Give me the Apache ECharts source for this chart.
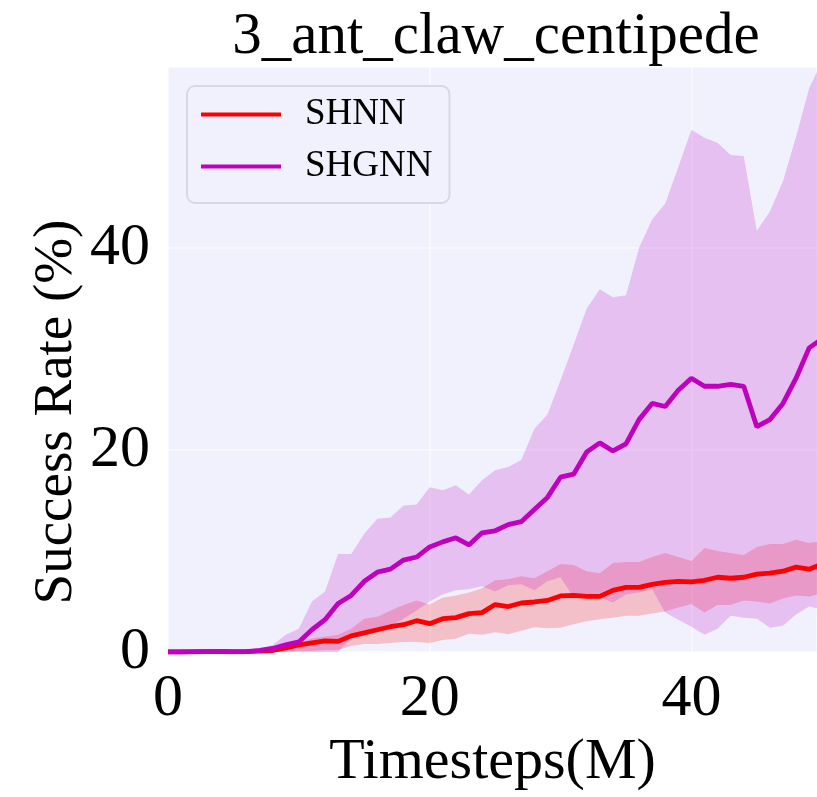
<!DOCTYPE html>
<html>
<head>
<meta charset="utf-8">
<script src="https://cdn.jsdelivr.net/npm/echarts@6/dist/echarts.min.js"></script>
<style>
html,body{margin:0;padding:0;background:#fff;}
#chart{width:817px;height:797px;}
</style>
</head>
<body>
<div id="chart"></div>
<script>
// ---- data ----
const steps = [0,1,2,3,4,5,6,7,8,9,10,11,12,13,14,15,16,17,18,19,20,21,22,23,24,25,26,27,28,29,30,31,32,33,34,35,36,37,38,39,40,41,42,43,44,45,46,47,48,49,50];

const shnnMean = [0,0,0.02,0.03,0.03,0.03,0.05,0.08,0.15,0.4,0.7,0.9,1.1,1.05,1.6,1.9,2.2,2.5,2.7,3.1,2.8,3.3,3.4,3.8,3.9,4.7,4.5,4.85,4.95,5.1,5.55,5.6,5.5,5.5,6.1,6.4,6.4,6.7,6.9,7.0,6.95,7.1,7.4,7.3,7.4,7.7,7.8,8.0,8.4,8.2,8.7];
const shnnUpper = [0.05,0.05,0.08,0.1,0.1,0.1,0.12,0.2,0.35,0.55,0.85,1.35,1.5,1.7,2.3,3.3,3.5,4.1,4.65,5.1,4.7,5.4,5.6,5.9,6.3,7.1,7.2,7.5,7.3,8.0,8.7,8.6,8.0,7.8,8.8,8.9,8.9,9.4,9.8,9.4,9.0,10.3,10.0,9.8,9.6,10.4,10.7,10.7,11.1,10.8,11.0];
const shnnLower = [0,0,0,0,0,0,0,0,0,0.05,0.1,0.1,0.2,0.2,0.6,0.8,0.8,0.9,1.0,1.0,0.9,1.2,1.3,1.8,1.7,1.95,1.75,2.1,2.45,2.35,2.4,2.75,3.05,3.25,3.4,3.6,3.6,3.8,4.0,4.4,4.75,3.9,4.65,4.65,5.1,5.0,4.8,5.3,5.6,5.5,5.8];

const shgnnMean = [0,0,0.03,0.03,0.05,0.02,0.03,0.15,0.35,0.7,1.0,2.2,3.2,4.8,5.6,7.0,7.9,8.2,9.1,9.4,10.4,10.9,11.3,10.6,11.8,12.0,12.6,12.9,14.1,15.3,17.3,17.6,19.8,20.7,19.9,20.6,23.0,24.6,24.3,25.9,27.1,26.3,26.3,26.5,26.3,22.3,23.0,24.6,27.1,30.1,31.0];
const shgnnUpper = [0.05,0.05,0.1,0.1,0.1,0.05,0.1,0.3,0.7,1.7,2.3,5.0,6.0,9.7,9.7,11.7,13.2,13.3,14.5,14.6,16.3,16.0,16.5,15.6,17.0,18.0,18.3,19.0,22.1,23.5,26.9,30.4,34.0,35.9,35.1,35.3,40.0,42.8,44.4,48.0,51.7,50.9,50.4,49.2,49.1,41.7,43.6,46.6,51.0,55.8,58.5];
const shgnnLower = [0,0,0,0,0,0,0,0,0,0,0,0,0,0,1.4,1.7,2.1,2.6,3.3,4.1,5.0,5.7,6.1,6.2,6.5,6.0,6.6,6.7,6.1,7.0,7.4,5.4,5.3,5.4,4.9,5.7,5.9,6.2,3.9,3.2,2.5,1.7,2.3,3.6,3.4,3.3,2.4,2.6,3.7,4.5,4.2];

const xTicks = [0, 20, 40];
const yTicks = [0, 20, 40];
const seriesNames = ['SHNN', 'SHGNN'];
const titleText = '3_ant_claw_centipede';
const xName = 'Timesteps(M)';
const yName = 'Success Rate (%)';

// ---- build ----
const pairs = (ys) => steps.map((x, i) => [x, ys[i]]);
const bandData = (lo, hi) => steps.map((x, i) => [x, lo[i], hi[i]]);

const FONT = '"Liberation Serif", "Times New Roman", serif';
const RED = '#FF0000';
const MAG = '#BF00BF';
const BG = '#F1F1FD';

const chart = echarts.init(document.getElementById('chart'), null, {renderer: 'canvas'});

function bandSeries(name, lo, hi, color, z) {
  return {
    name: name + '_band', type: 'custom', silent: true, z: z,
    data: bandData(lo, hi),
    encode: {x: 0, y: [1, 2]},
    clip: true,
    renderItem: function (params, api) {
      if (params.dataIndex !== 0) return null;
      const top = steps.map((x, i) => api.coord([x, hi[i]]));
      const bot = steps.map((x, i) => api.coord([x, lo[i]])).reverse();
      return {
        type: 'polygon',
        shape: {points: top.concat(bot)},
        style: {fill: color, stroke: null}
      };
    }
  };
}

const option = {
  animation: false,
  backgroundColor: '#ffffff',
  grid: {
    left: 168, right: 0, top: 67, bottom: 145,
    show: true, backgroundColor: BG, borderWidth: 0
  },
  xAxis: {
    type: 'value', min: 0, max: 49.6, interval: 20,
    axisLine: {show: false}, axisTick: {show: false},
    splitLine: {show: true, lineStyle: {color: '#ffffff', width: 1.5, opacity: 0.6}},
    axisLabel: {
      margin: 17, color: '#000', fontFamily: FONT, fontSize: 60,
      showMaxLabel: false,
      formatter: (v) => xTicks.indexOf(v) >= 0 ? String(v) : ''
    },
    name: xName, nameLocation: 'middle', nameGap: 80,
    nameTextStyle: {color: '#000', fontFamily: FONT, fontSize: 58}
  },
  yAxis: {
    type: 'value', min: 0, max: 57.9, interval: 20,
    axisLine: {show: false}, axisTick: {show: false},
    splitLine: {show: true, lineStyle: {color: '#ffffff', width: 1.5, opacity: 0.6}},
    axisLabel: {
      margin: 18, color: '#000', fontFamily: FONT, fontSize: 60,
      showMaxLabel: false,
      formatter: (v) => yTicks.indexOf(v) >= 0 ? String(v) : ''
    }
  },
  legend: {
    data: seriesNames,
    orient: 'vertical', left: 187, top: 86,
    icon: 'rect', itemWidth: 80, itemHeight: 4, itemGap: 15,
    padding: [10, 17, 18, 14],
    backgroundColor: BG, borderColor: '#D8D8E2', borderWidth: 2, borderRadius: 8,
    textStyle: {color: '#000', fontFamily: FONT, fontSize: 37, padding: [0, 0, 0, 19]},
    selectedMode: false
  },
  graphic: [
    {
      type: 'text', x: 496, y: 37, silent: true,
      style: {text: titleText, font: '59px ' + FONT, fill: '#000', textAlign: 'center', textVerticalAlign: 'middle'}
    },
    {
      type: 'text', x: 57, y: 412, rotation: Math.PI / 2, silent: true,
      style: {text: yName, font: '55px ' + FONT, fill: '#000', textAlign: 'center', textVerticalAlign: 'middle'}
    }
  ],
  series: [
    bandSeries('SHNN', shnnLower, shnnUpper, 'rgba(255,0,0,0.2)', 1),
    bandSeries('SHGNN', shgnnLower, shgnnUpper, 'rgba(191,0,191,0.2)', 2),
    {
      name: 'SHNN', type: 'line', data: pairs(shnnMean), showSymbol: false, symbol: 'none',
      color: RED, lineStyle: {color: RED, width: 4.8}, z: 3, emphasis: {disabled: true}
    },
    {
      name: 'SHGNN', type: 'line', data: pairs(shgnnMean), showSymbol: false, symbol: 'none',
      color: MAG, lineStyle: {color: MAG, width: 4.8}, z: 4, emphasis: {disabled: true}
    }
  ]
};

chart.setOption(option);
</script>
</body>
</html>
